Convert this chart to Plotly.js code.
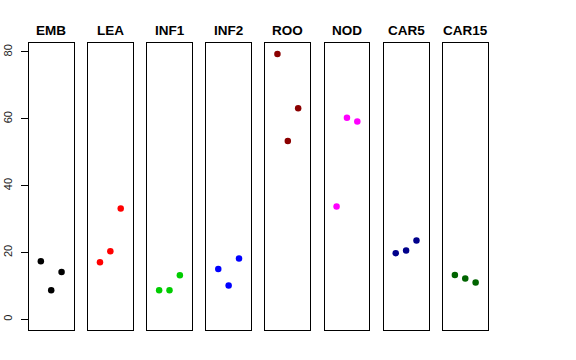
<!DOCTYPE html>
<html>
<head>
<meta charset="utf-8">
<script src="https://cdn.plot.ly/plotly-3.0.1.min.js"></script>
<style>html,body{margin:0;padding:0;background:#fff;}#chart{width:576px;height:360px;}</style>
</head>
<body>
<div id="chart"></div>
<script>
const panels = ["EMB", "LEA", "INF1", "INF2", "ROO", "NOD", "CAR5", "CAR15"];
const reps = [1, 2, 3];
const EMB = [17.4, 8.7, 14.2];
const LEA = [17.1, 20.4, 33.2];
const INF1 = [8.7, 8.7, 13.2];
const INF2 = [15.1, 10.1, 18.2];
const ROO = [79.4, 53.4, 63.2];
const NOD = [33.8, 60.3, 59.2];
const CAR5 = [19.8, 20.6, 23.6];
const CAR15 = [13.3, 12.2, 11.0];
const colors = ["#000000", "#FF0000", "#00CD00", "#0000FF", "#8B0000", "#FF00FF", "#00008B", "#006400"];
const yTicks = [0, 20, 40, 60, 80];

const values = [EMB, LEA, INF1, INF2, ROO, NOD, CAR5, CAR15];
const W = 576, H = 360;
const left0 = 28.8, step = 59.15, pw = 44.8;
const yDom = [(H - 330) / H, (H - 43.3) / H];
const yRange = [-3.18, 82.6];

const traces = [];
const layout = {
  width: W, height: H,
  margin: {l: 0, r: 0, t: 0, b: 0},
  paper_bgcolor: "#fff", plot_bgcolor: "#fff",
  showlegend: false,
  font: {family: "Liberation Sans, Arial, sans-serif", color: "#000"},
  annotations: []
};

panels.forEach((p, i) => {
  const n = i === 0 ? "" : String(i + 1);
  traces.push({
    type: "scatter", mode: "markers",
    x: reps, y: values[i],
    xaxis: "x" + n, yaxis: "y" + n,
    marker: {color: colors[i], size: 6.5},
    hoverinfo: "skip"
  });
  const l = left0 + i * step;
  layout["xaxis" + n] = {
    domain: [l / W, (l + pw) / W],
    range: [-0.16, 4.16],
    anchor: "y" + n,
    showgrid: false, zeroline: false, showticklabels: false, ticks: "",
    showline: true, mirror: true, linecolor: "#000", linewidth: 1
  };
  const ya = {
    domain: yDom,
    range: yRange,
    anchor: "x" + n,
    showgrid: false, zeroline: false,
    showline: true, mirror: true, linecolor: "#000", linewidth: 1
  };
  if (i === 0) {
    Object.assign(ya, {
      tickmode: "array", tickvals: yTicks, ticktext: yTicks.map(String),
      ticks: "outside", ticklen: 7, tickcolor: "#000", tickwidth: 1,
      tickangle: -90, ticklabelstandoff: 4,
      tickfont: {size: 11, color: "#222", family: "Liberation Sans, Arial, sans-serif"}
    });
  } else {
    Object.assign(ya, {showticklabels: false, ticks: ""});
  }
  layout["yaxis" + n] = ya;
  layout.annotations.push({
    text: "<b>" + p + "</b>",
    xref: "paper", yref: "paper",
    x: (l + pw / 2) / W, y: (H - 30) / H,
    xanchor: "center", yanchor: "middle",
    showarrow: false,
    font: {size: 13.5, color: "#000", family: "Liberation Sans, Arial, sans-serif"}
  });
});

Plotly.newPlot("chart", traces, layout, {staticPlot: true, displayModeBar: false});
</script>
</body>
</html>
